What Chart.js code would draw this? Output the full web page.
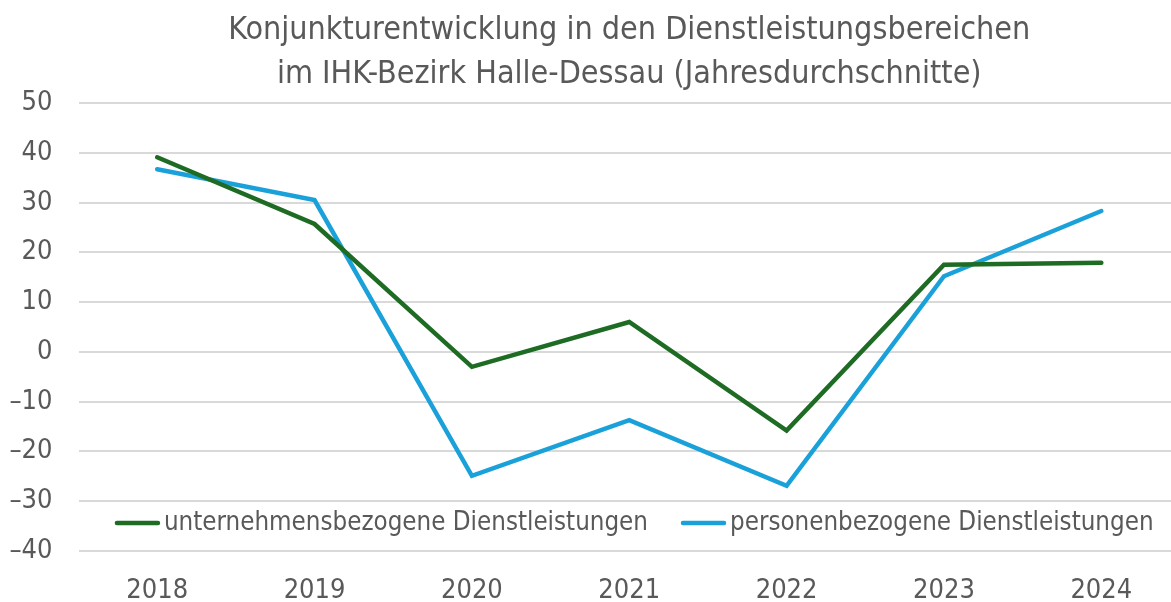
<!DOCTYPE html>
<html>
<head>
<meta charset="utf-8">
<script src="https://cdn.jsdelivr.net/npm/chart.js@4/dist/chart.umd.min.js"></script>
<style>
  html, body { margin: 0; padding: 0; background: #fff; overflow: hidden; }
</style>
</head>
<body>
<canvas id="myChart" width="1180" height="602"></canvas>
<script>
let years = ['2018', '2019', '2020', '2021', '2022', '2023', '2024'];
let unternehmen = [39.1, 25.7, -3.0, 6.0, -15.8, 17.5, 17.9];
let personen = [36.7, 30.5, -24.9, -13.7, -26.9, 15.2, 28.3];
let yMin = -40;
let yMax = 50;
let yStep = 10;
let titleLines = ['Konjunkturentwicklung in den Dienstleistungsbereichen', 'im IHK-Bezirk Halle-Dessau (Jahresdurchschnitte)'];

var FONT = "'DejaVu Sans Condensed', 'Liberation Sans Narrow', sans-serif";
var grey = '#595959';

// legend sits inside the plot, above the lowest gridline
var insideLegend = {
    id: 'insideLegend',
    afterDraw: function(chart) {
        var ctx = chart.ctx;
        var area = chart.chartArea;
        var size = 25.7;
        var lineLen = 45, gap = 4, spacing = 33;
        ctx.save();
        ctx.font = size + 'px ' + FONT;
        var items = chart.data.datasets.map(function(ds) {
            return {label: ds.label, color: ds.borderColor, w: lineLen + gap + ctx.measureText(ds.label).width};
        });
        var total = items.reduce(function(s, it) { return s + it.w; }, 0) + spacing * (items.length - 1);
        var x = (area.left + area.right) / 2 - total / 2 + 5;
        var y = area.bottom - 28;
        items.forEach(function(it) {
            ctx.strokeStyle = it.color;
            ctx.lineWidth = 4.5;
            ctx.lineCap = 'round';
            ctx.beginPath();
            ctx.moveTo(x + 2, y);
            ctx.lineTo(x + lineLen - 2, y);
            ctx.stroke();
            ctx.fillStyle = grey;
            ctx.textBaseline = 'middle';
            ctx.textAlign = 'left';
            ctx.fillText(it.label, x + lineLen + gap, y);
            x += it.w + spacing;
        });
        ctx.restore();
    }
};

function createChart(ctx) {
    var myChart = new Chart(ctx, {
        type: 'line',
        data: {
            labels: years,
            datasets: [{
                label: 'unternehmensbezogene Dienstleistungen',
                data: unternehmen,
                borderColor: '#1e6b24',
                backgroundColor: '#1e6b24',
                borderWidth: 4.5,
                pointRadius: 0,
                tension: 0,
                borderCapStyle: 'round',
                borderJoinStyle: 'miter'
            }, {
                label: 'personenbezogene Dienstleistungen',
                data: personen,
                borderColor: '#1ba1d9',
                backgroundColor: '#1ba1d9',
                borderWidth: 4.5,
                pointRadius: 0,
                tension: 0,
                borderCapStyle: 'round',
                borderJoinStyle: 'miter'
            }]
        },
        options: {
            responsive: false,
            animation: false,
            layout: { padding: 0 },
            plugins: {
                legend: { display: false },
                tooltip: { enabled: false },
                title: {
                    display: true,
                    text: titleLines,
                    fullSize: false,
                    color: grey,
                    font: { family: FONT, size: 32, weight: 'normal', lineHeight: 1.375 },
                    padding: { top: 9, bottom: 6 }
                }
            },
            scales: {
                x: {
                    offset: true,
                    grid: { display: false },
                    border: { display: false },
                    ticks: { color: grey, padding: 16, font: { family: FONT, size: 27 } },
                    afterFit: function(scale) { scale.height = 51; }
                },
                y: {
                    min: yMin,
                    max: yMax,
                    grid: { color: '#d9d9d9', lineWidth: 2, drawTicks: false },
                    border: { display: false },
                    ticks: {
                        stepSize: yStep, color: grey, padding: 26, font: { family: FONT, size: 27 },
                        callback: function(v) { return String(v).replace('-', '\u2013'); }
                    },
                    afterFit: function(scale) { scale.width = 78.5; }
                }
            }
        },
        plugins: [insideLegend]
    });
    return myChart;
}

window.addEventListener('load', function() {
    var ctx = document.getElementById('myChart').getContext('2d');
    createChart(ctx);
});
</script>
</body>
</html>
